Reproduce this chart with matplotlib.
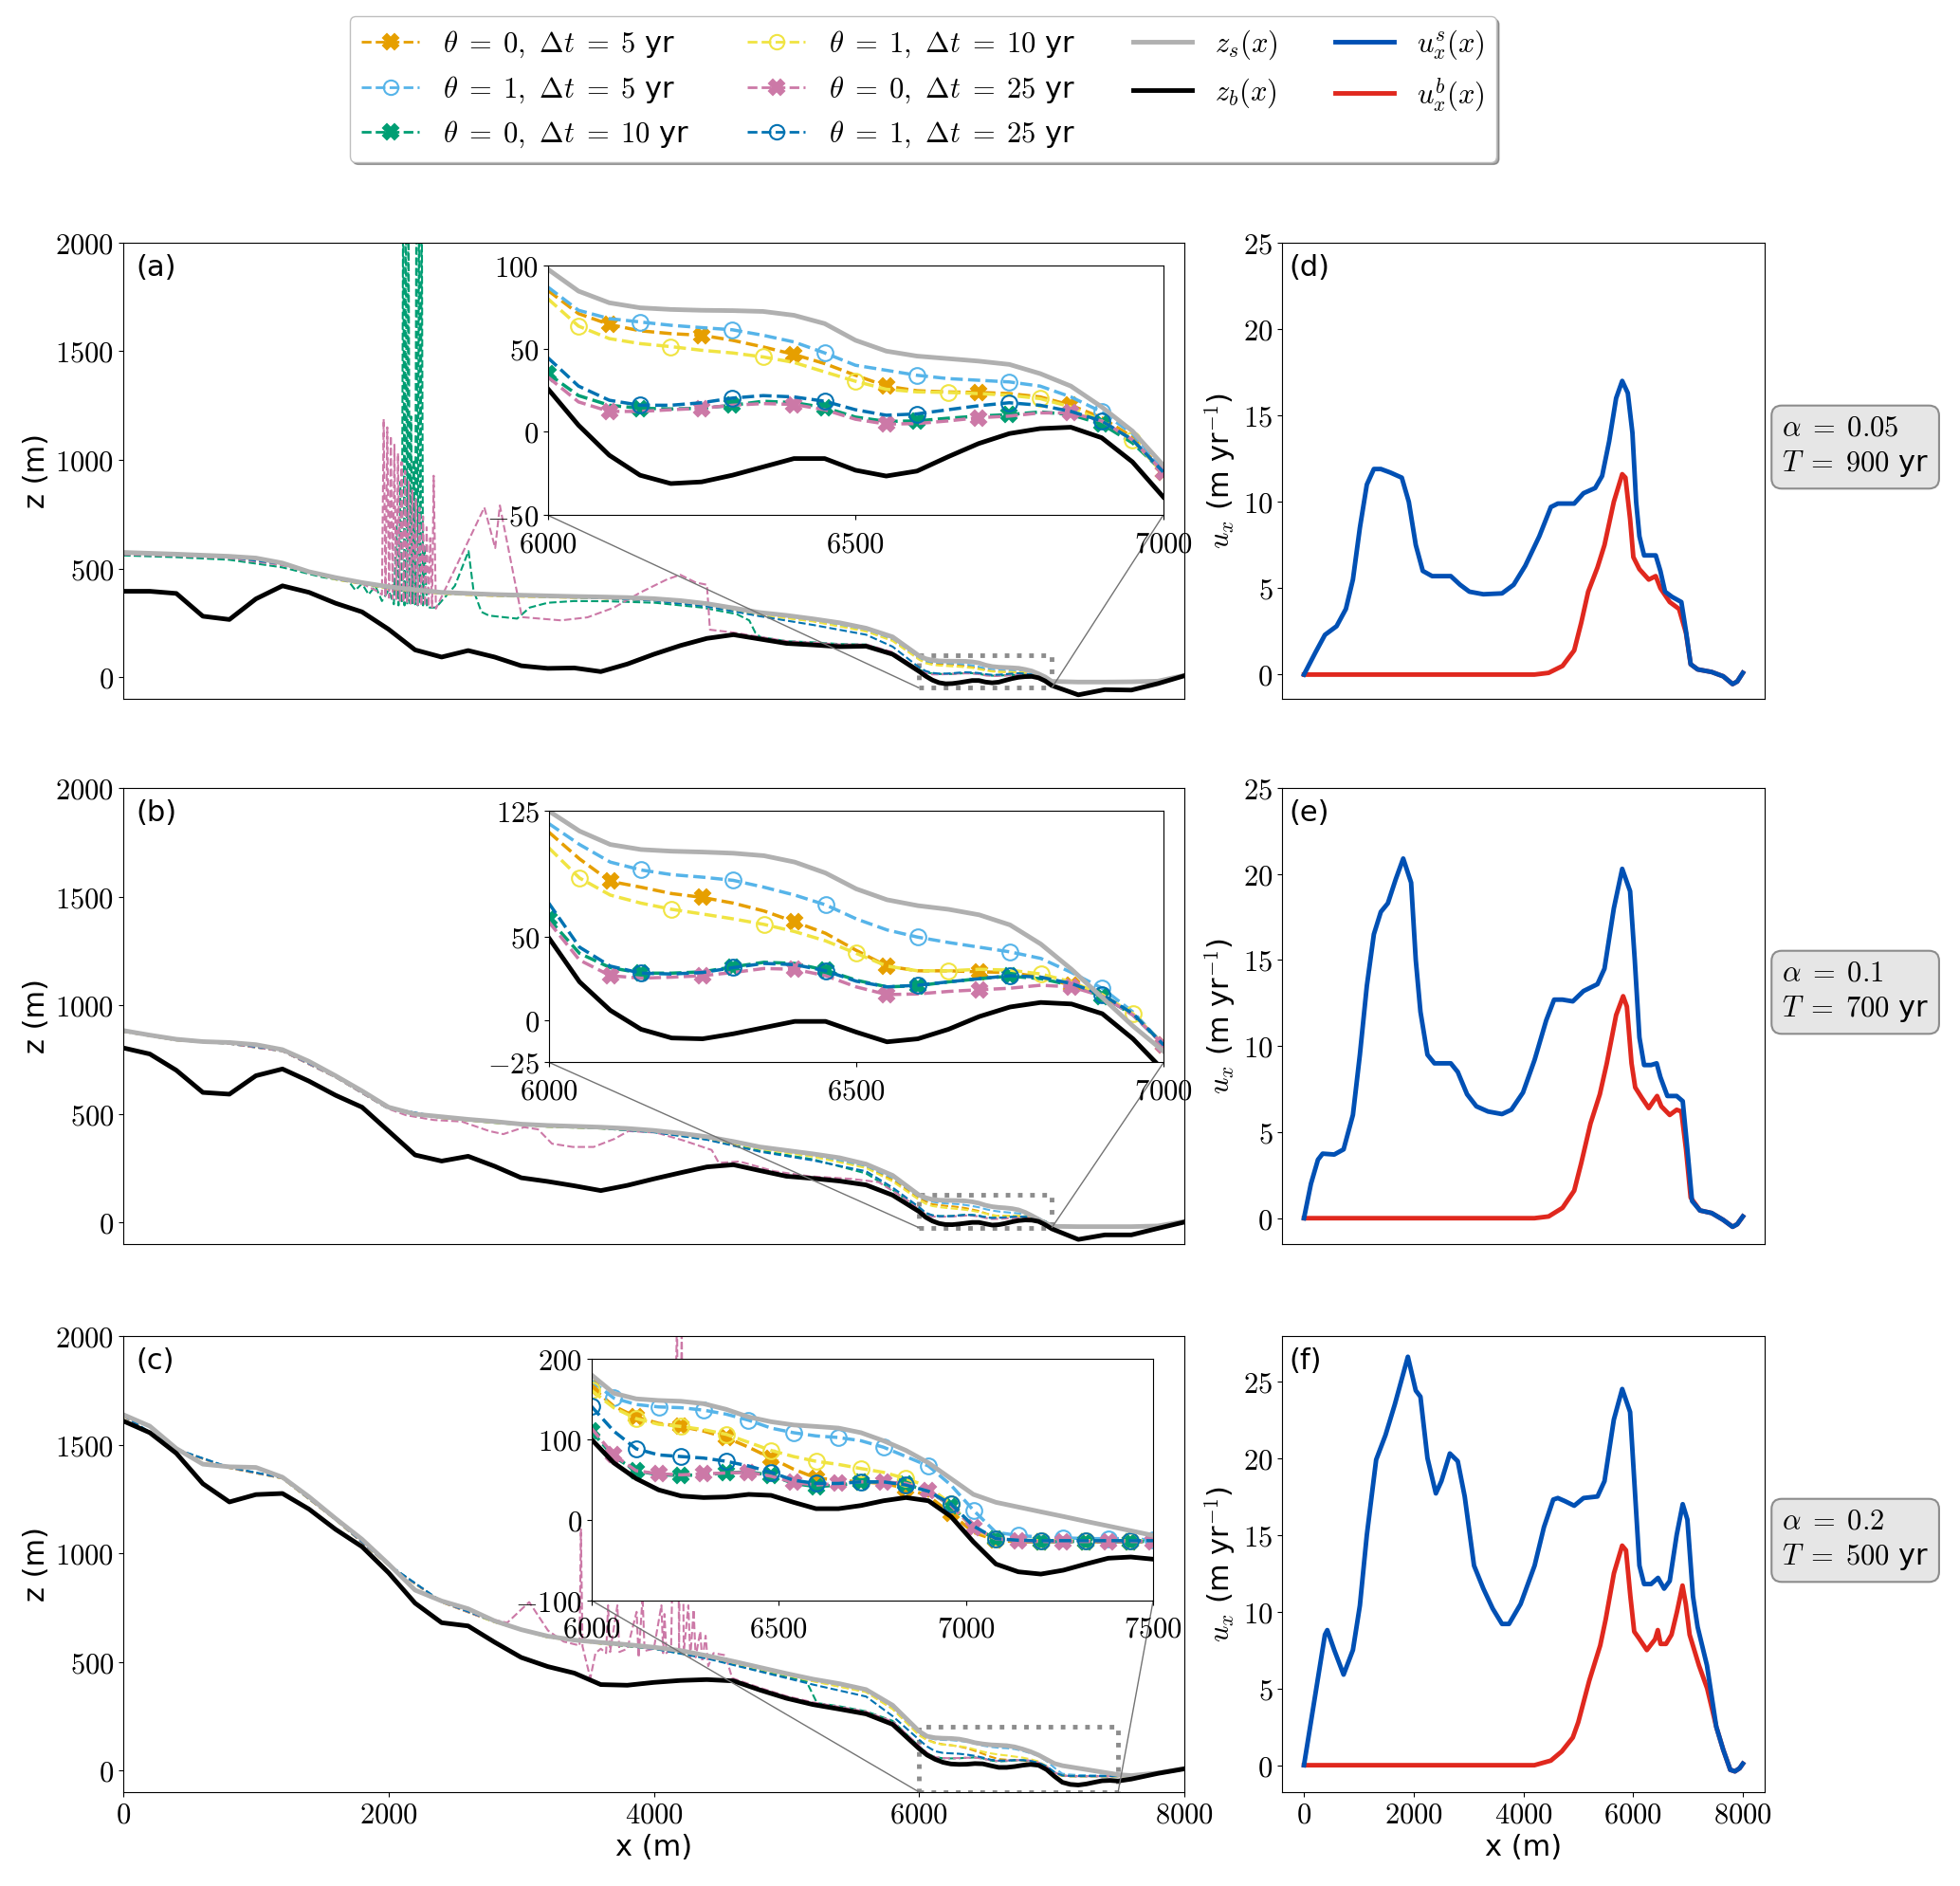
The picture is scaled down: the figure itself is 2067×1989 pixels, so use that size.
import numpy as np
import matplotlib
matplotlib.use('Agg')
from matplotlib import pyplot as plt
from matplotlib.lines import Line2D
from matplotlib.ticker import FuncFormatter
from mpl_toolkits.axes_grid1.inset_locator import mark_inset

plt.rcParams['mathtext.fontset'] = 'cm'
plt.rcParams['font.family'] = ['DejaVu Sans']
plt.rcParams['font.size'] = 22

# ---------------- grids ----------------
x_left = np.arange(0, 6000, 200)            # 0 .. 5800
x_mid = np.r_[np.arange(0, 5601, 400), 5800]
x_zoom = np.arange(6000, 7001, 50)          # panels a, b
x_zoom_c = np.arange(6000, 7501, 60)        # panel c
x_right = np.array([7200, 7400, 7600, 7800, 8000])
x_right_c = np.array([7600, 7800, 8000])

labels = [r'$\theta\;=\;0,\ \Delta t\;=\;5$ yr', r'$\theta\;=\;1,\ \Delta t\;=\;5$ yr',
          r'$\theta\;=\;0,\ \Delta t\;=\;10$ yr', r'$\theta\;=\;1,\ \Delta t\;=\;10$ yr',
          r'$\theta\;=\;0,\ \Delta t\;=\;25$ yr', r'$\theta\;=\;1,\ \Delta t\;=\;25$ yr']
colors = ['#E69F00', '#56B4E9', '#009E73', '#F0E442', '#CC79A7', '#0072B2']
markers = ['X', 'o', 'X', 'o', 'X', 'o']

# ---------------- panel (a) ----------------
bed_a = [395, 395, 385, 280, 265, 360, 420, 390, 340, 300, 220, 125, 92, 122, 92,
         52, 40, 42, 25, 60, 105, 145, 178, 195, 175, 155, 148, 140, 142, 105]
surf_a = [574, 570, 566, 561, 556, 548, 525, 485, 458, 435, 416, 402, 390, 385, 380,
          377, 374, 371, 369, 366, 361, 352, 338, 318, 297, 284, 268, 250, 225, 185]
bed_a_z = [26, 4, -14, -26, -31, -30, -26, -21, -16, -16, -23, -26.5, -23.5, -15, -7,
           -1, 2, 2.8, -3.5, -18, -39]
surf_a_z = [97.7, 84.5, 77.5, 74.5, 73.5, 73, 72.8, 72.3, 70, 65, 55, 48.5, 45.5, 44,
            42.5, 40.5, 35, 27.5, 15, 0.5, -20]
bed_a_r = [-82, -58, -60, -30, 6]
surf_a_r = [-23, -23, -22, -19, 8]
tail_a = [-24, -24, -23, -20, 7]

or_a_m = [569, 561, 551, 518, 450, 408, 384, 374, 368, 363, 354, 330, 288, 258, 212, 170]
lb_a_m = [570, 562, 552, 520, 452, 410, 386, 376, 370, 364, 356, 332, 290, 260, 216, 176]
ye_a_m = [568, 560, 550, 517, 449, 407, 383, 373, 367, 362, 353, 328, 286, 256, 210, 166]
db_a_m = [570, 562, 552, 520, 452, 410, 386, 376, 370, 363, 352, 325, 280, 240, 195, 140]

gr_a_x = [0, 400, 800, 1200, 1500, 1700, 1750, 1800, 1850, 1900, 1950, 2000, 2040, 2060,
          2075, 2090, 2100, 2110, 2120, 2130, 2140, 2150, 2160, 2170, 2180, 2190, 2200,
          2210, 2220, 2230, 2240, 2250, 2260, 2270, 2290, 2357, 2500, 2603, 2640, 2700,
          2757, 2969, 3064, 3200, 3400, 3655, 4009, 4364, 4624, 4719, 4766, 4800, 5000,
          5200, 5400, 5600, 5800]
gr_a_y = [560, 552, 540, 505, 460, 440, 400, 430, 380, 420, 350, 400, 335, 700,
          330, 900, 340, 2300, 330, 2300, 335, 2300, 340, 1200, 340, 1000, 335,
          2300, 330, 2300, 335, 2300, 330, 600, 320, 320, 420, 580, 400, 300,
          283, 269, 320, 342, 350, 349, 342, 320, 290, 261, 203, 185, 165,
          160, 152, 150, 110]
pk_a_x = [0, 400, 800, 1200, 1600, 1800, 1900, 1950, 1963, 1977, 1990, 2004, 2017, 2031,
          2044, 2058, 2071, 2085, 2098, 2112, 2125, 2139, 2152, 2166, 2179, 2193, 2206,
          2220, 2233, 2247, 2260, 2274, 2287, 2301, 2314, 2328, 2340, 2357, 2722, 2804,
          2839, 3005, 3300, 3500, 3700, 3900, 4100, 4199, 4317, 4400, 4423, 4600, 4800,
          5000, 5200, 5400, 5600, 5800]
pk_a_y = [565, 558, 548, 515, 452, 430, 400, 380, 1188, 370, 1150, 365, 1110, 360,
          1070, 355, 1030, 350, 990, 345, 950, 340, 900, 338, 860, 335, 820,
          332, 780, 330, 740, 328, 690, 325, 640, 322, 927, 315, 781, 594,
          790, 276, 261, 275, 320, 390, 450, 471, 435, 425, 218, 205, 185,
          165, 158, 150, 150, 115]

or_a_z = [85, 71, 64.5, 60.7, 59, 58, 55, 51, 46.5, 41, 34, 27.5, 24.7, 24, 23.7, 23, 21, 16, 8.5, -3, -24]
lb_a_z = [87, 73, 68, 66, 64, 62.6, 61.3, 58, 54, 47.4, 40, 37, 34, 32, 31, 30, 27.5, 21, 12, -1, -22]
gr_a_z = [35, 21.8, 16, 14.2, 13.8, 14.2, 16, 18.4, 17.6, 14.6, 8.9, 6.3, 6.6, 8.2, 9.5, 10.4, 12, 10.4, 4.7, -6.6, -24]
ye_a_z = [80, 63.5, 56, 53, 51.2, 49, 47.4, 45, 41.7, 36, 30.4, 25.6, 24, 23.7, 23, 22, 20, 15, 6.6, -4.7, -25]
pk_a_z = [33, 18, 12.3, 12.3, 13.3, 14.2, 16, 17, 16.5, 13.3, 7.6, 4.7, 5, 6.6, 8.5, 9.5, 11.4, 11.4, 6.6, -4.7, -24]
db_a_z = [44.6, 27.5, 19, 16, 16, 17.5, 20.3, 21.8, 21, 18.4, 13.3, 10, 10.8, 13.3, 15.7, 17.5, 16, 12.3, 6.6, -4.7, -24]

# ---------------- panel (b) ----------------
bed_b = [803, 775, 700, 598, 590, 675, 706, 650, 585, 530, 420, 310, 282, 304, 258,
         205, 188, 168, 146, 170, 200, 228, 255, 265, 238, 212, 202, 190, 172, 125]
surf_b = [883, 862, 843, 832, 828, 818, 795, 741, 675, 605, 530, 498, 486, 474, 464,
          452, 446, 442, 438, 432, 423, 410, 394, 372, 347, 331, 315, 297, 268, 216]
bed_b_z = [49.3, 23, 6, -5.3, -10.5, -11, -8, -4.3, -0.6, -0.6, -7, -12.8, -11, -5.3,
           2.3, 8, 10.7, 9.8, 4, -11, -30]
surf_b_z = [125, 113, 105, 102, 101, 100.5, 99.8, 98.3, 94.5, 88, 78.5, 72, 68.5, 66.3,
            63, 57, 45.6, 30.5, 13.6, -3.4, -18.5]
bed_b_r = [-79, -58, -58, -28, 1]
surf_b_r = [-20, -20, -20, -17, 4]
tail_b = [-21, -21, -21, -18, 3]

or_b_m = [879, 839, 824, 790, 670, 525, 481, 459, 441, 433, 418, 388, 340, 305, 255, 195]
lb_b_m = [880, 840, 825, 792, 672, 527, 483, 461, 443, 434, 419, 390, 342, 308, 258, 205]
gr_b_m = [878, 838, 822, 788, 668, 522, 480, 458, 440, 432, 415, 382, 330, 290, 225, 150]
ye_b_m = [878, 838, 823, 789, 669, 524, 480, 458, 440, 432, 417, 386, 338, 302, 250, 188]
db_b_m = [880, 840, 825, 792, 672, 527, 483, 461, 443, 433, 415, 380, 325, 285, 235, 160]
pk_b_x = [0, 400, 800, 1200, 1600, 2001, 2132, 2342, 2551, 2760, 2865, 3022, 3127, 3232,
          3389, 3546, 3703, 3808, 4018, 4227, 4436, 4489, 4646, 4908, 5170, 5484, 5694, 5904]
pk_b_y = [878, 838, 822, 788, 668, 522, 493, 471, 464, 420, 406, 438, 428, 362,
          347, 347, 384, 420, 413, 376, 333, 274, 280, 235, 212, 200, 185, 105]

or_b_z = [112.4, 96.4, 83, 79.5, 75.7, 73.4, 70, 65.3, 58.8, 52, 41.8, 32.4, 29.6, 29.6, 29, 28.6, 25.8, 21, 14.5, 4, -14.7]
lb_b_z = [117.5, 105, 94.5, 89.8, 87, 85.5, 83.6, 79.5, 74.8, 69, 60.6, 54, 49.7, 46.5, 43.7, 40.9, 37, 28.6, 19.2, 5, -14.7]
gr_b_z = [60.6, 40, 31.5, 28.2, 28.2, 29, 32, 34.7, 34, 30, 24, 20, 20.7, 23, 24.9, 26.4, 24.9, 21, 14.5, 3.2, -14.7]
ye_b_z = [103, 85, 74.8, 70, 66.3, 63.5, 60.6, 57.3, 53, 47.5, 40, 32.4, 29.6, 29.6, 30.5, 30, 27.7, 23, 15.4, 4, -14.7]
pk_b_z = [58.8, 36, 26.7, 25.2, 25.8, 26.7, 28.6, 31, 30.5, 26.7, 20, 15.4, 15.8, 17.3, 18.3, 19.2, 21, 20, 14.5, 3.2, -14.7]
db_b_z = [70, 43.7, 32.4, 28.2, 27.7, 28.6, 31.5, 34, 33.3, 29.6, 23.4, 20, 21, 23, 24.9, 26.7, 25.8, 22, 15.4, 4, -14.7]

# ---------------- panel (c) ----------------
bed_c = [1609, 1555, 1460, 1320, 1236, 1270, 1275, 1203, 1110, 1030, 910, 770, 680, 665, 590,
         520, 478, 448, 395, 392, 405, 414, 418, 412, 370, 332, 303, 282, 260, 212]
surf_c = [1638, 1585, 1482, 1410, 1398, 1395, 1350, 1260, 1160, 1064, 950, 830, 780, 744, 688,
          648, 618, 600, 589, 579, 567, 552, 528, 502, 474, 446, 420, 399, 372, 300]
bed_c_z = [100, 70.6, 51, 37, 29.4, 27.5, 28.2, 31.4, 30.2, 21.6, 13.7, 13.7, 17.6, 23.5,
           27.5, 23.5, 4, -27.5, -55, -64.7, -67.5, -62.7, -55, -47.8, -46.3, -49]
surf_c_z = [180, 157, 150, 148, 147, 144, 137, 127.5, 121.6, 117.6, 115.7, 113.7, 108, 98,
            86, 70.6, 51, 31.4, 21.6, 15.7, 9.8, 4, -2, -7.8, -13.7, -19.6]
bed_c_r = [-40, -14, 7]
surf_c_r = [-24, -12, 9]
tail_c = [-26, -14, 7]

or_c_m = [1633, 1477, 1393, 1345, 1155, 945, 775, 683, 613, 584, 562, 522, 467, 412, 362, 285]
lb_c_m = [1635, 1479, 1395, 1347, 1157, 947, 777, 685, 615, 586, 564, 525, 470, 416, 367, 292]
ye_c_m = [1632, 1476, 1392, 1344, 1154, 944, 774, 682, 612, 583, 561, 521, 466, 410, 360, 282]
db_c_m = [1635, 1479, 1395, 1347, 1157, 947, 777, 685, 615, 585, 560, 515, 455, 395, 340, 250]
gr_c_x = [0, 400, 800, 1200, 1600, 2000, 2400, 2800, 3200, 3600, 4000, 4400, 4800, 5000,
          5150, 5230, 5400, 5600, 5800]
gr_c_y = [1633, 1477, 1393, 1345, 1155, 945, 775, 683, 613, 584, 560, 518, 460, 430,
          410, 310, 295, 272, 228]
pk_c_x = [0, 400, 800, 1200, 1600, 2000, 2400, 2700, 2895, 3060, 3202, 3320, 3440, 3450,
          3462, 3521, 3560, 3600, 3640, 3655, 3670, 3725, 3740, 3800, 3870, 3885, 3915,
          3930, 4000, 4057, 4070, 4080, 4095, 4130, 4175, 4190, 4210, 4225, 4260, 4275,
          4300, 4315, 4350, 4365, 4390, 4410, 4450, 4540, 4590, 4800, 5000, 5200, 5400,
          5600, 5800]
pk_c_y = [1633, 1477, 1393, 1345, 1155, 945, 775, 705, 680, 775, 644, 593, 575, 1110,
          571, 425, 540, 560, 540, 760, 545, 760, 545, 560, 730, 520, 800,
          550, 560, 760, 540, 720, 540, 560, 2100, 540, 2100, 540, 760, 520,
          740, 520, 640, 500, 620, 480, 540, 530, 425, 380, 342, 313, 292,
          270, 225]

or_c_z = [164.7, 141, 127.5, 119.6, 115.7, 110, 102, 90, 76.5, 62.7, 51.8, 49, 47, 45, 39, 29.4,
          7.8, -15.7, -25.5, -27.5, -27.5, -27.5, -27.5, -27.5, -27.5, -27.5]
lb_c_z = [172.5, 151, 143, 140, 139, 136, 131, 123.5, 113.7, 108, 104, 102, 98, 90, 78.4, 66.7,
          43, 11.8, -15.7, -19.6, -21.6, -22.4, -23.5, -23.5, -23.5, -25.5]
gr_c_z = [110, 78.4, 60.8, 55.7, 55, 55.7, 58, 59.6, 55, 45, 41, 43, 46.3, 47, 43.9, 35.3,
          17.6, -9.8, -23.5, -26.7, -27, -27, -27, -27, -27, -27]
ye_c_z = [160.8, 139, 125.5, 118.4, 115.7, 111.8, 106, 96, 86, 78.4, 72.5, 68.6, 63.5, 58.8, 51, 41,
          19.6, -11.8, -23.5, -25.5, -26, -26, -26, -26, -26, -26]
pk_c_z = [113.7, 80.4, 60.8, 56.9, 55.7, 56.9, 58, 58.8, 54, 46.3, 43, 45, 47, 47, 45, 36,
          17.6, -9.8, -23.5, -26.7, -27, -27, -27, -27, -27, -27]
db_c_z = [141, 110, 88, 80.4, 78.4, 76.5, 72.5, 66.7, 58.8, 49, 45, 45, 47, 47, 43, 35.3,
          19.6, -7.8, -23.5, -25.5, -26, -26, -26, -26, -26, -26]

# ---------------- velocities ----------------
x_us_d = [0, 212, 382, 594, 764, 892, 1019, 1146, 1274, 1401, 1571, 1783, 1911, 2038, 2166,
          2336, 2676, 2846, 3015, 3270, 3610, 3822, 4034, 4289, 4501, 4628, 4926, 5096, 5308,
          5435, 5563, 5690, 5801, 5903, 5987, 6055, 6115, 6200, 6412, 6497, 6582, 6709, 6879,
          6964, 7049, 7176, 7431, 7643, 7813, 7898, 8000]
us_d = [0, 1.3, 2.3, 2.8, 3.8, 5.5, 8.5, 11, 11.9, 11.9, 11.7, 11.4, 10, 7.5, 6,
        5.7, 5.7, 5.2, 4.8, 4.65, 4.7, 5.2, 6.3, 8, 9.7, 9.9, 9.9, 10.5, 10.8,
        11.5, 13.5, 16, 17, 16.3, 14, 10, 8, 6.9, 6.9, 6, 4.8, 4.5, 4.2,
        2.5, 0.6, 0.3, 0.15, -0.1, -0.55, -0.4, 0.1]
x_ub_d = [0, 4200, 4459, 4713, 4926, 5054, 5181, 5350, 5478, 5648, 5801, 5860, 5945, 6004,
          6115, 6285, 6412, 6497, 6667, 6837, 6964, 7049, 7176, 7431, 7643, 7813, 7898, 8000]
ub_d = [0, 0, 0.1, 0.5, 1.4, 3, 4.8, 6.2, 7.5, 10, 11.6, 11.4, 9, 6.8,
        6.1, 5.5, 5.7, 5.0, 4.2, 3.8, 2.4, 0.6, 0.3, 0.15, -0.1, -0.55, -0.4, 0.1]

x_us_e = [0, 127, 255, 340, 552, 722, 892, 1019, 1146, 1274, 1401, 1529, 1673, 1809, 1953,
          2038, 2123, 2251, 2378, 2676, 2803, 2973, 3143, 3355, 3610, 3780, 3992, 4204, 4416,
          4560, 4713, 4900, 5096, 5350, 5478, 5648, 5801, 5945, 6030, 6115, 6200, 6327, 6429,
          6497, 6624, 6794, 6904, 6989, 7074, 7219, 7431, 7643, 7813, 7898, 8000]
us_e = [0, 2, 3.4, 3.75, 3.7, 4.0, 6, 9.5, 13.5, 16.5, 17.8, 18.3, 19.7, 20.9, 19.5,
        15, 12, 9.5, 9.0, 9.0, 8.5, 7.2, 6.5, 6.2, 6.05, 6.3, 7.3, 9.2, 11.5,
        12.7, 12.7, 12.6, 13.2, 13.6, 14.5, 18, 20.3, 19, 15, 10.5, 8.9, 8.9, 9.0,
        8.2, 7.1, 7.1, 6.8, 4, 1, 0.45, 0.3, -0.1, -0.5, -0.35, 0.1]
x_ub_e = [0, 4200, 4459, 4713, 4926, 5054, 5223, 5393, 5520, 5690, 5818, 5886, 5971, 6038,
          6157, 6285, 6370, 6437, 6514, 6667, 6794, 6879, 6964, 7049, 7219, 7431, 7643, 7813,
          7898, 8000]
ub_e = [0, 0, 0.1, 0.6, 1.6, 3.2, 5.5, 7.2, 9, 11.8, 12.9, 12.3, 9, 7.6,
        7.0, 6.4, 6.8, 7.1, 6.5, 6.0, 6.3, 6.2, 4, 1.2, 0.45, 0.3, -0.1, -0.5,
        -0.35, 0.1]

x_us_f = [0, 382, 425, 552, 722, 892, 1019, 1146, 1316, 1486, 1656, 1894, 2038, 2123, 2251,
          2404, 2505, 2659, 2803, 2930, 3100, 3270, 3440, 3610, 3737, 3949, 4204, 4374, 4544,
          4628, 4756, 4926, 5096, 5350, 5478, 5648, 5801, 5945, 6030, 6115, 6200, 6327, 6454,
          6565, 6667, 6794, 6904, 6989, 7091, 7176, 7346, 7516, 7643, 7771, 7856, 7941, 8000]
us_f = [0, 8.5, 8.8, 7.5, 5.9, 7.5, 10.4, 15, 19.9, 21.5, 23.5, 26.6, 24.4, 24.0, 20,
        17.7, 18.5, 20.3, 19.8, 17.5, 13, 11.5, 10.2, 9.2, 9.2, 10.5, 13, 15.5, 17.3,
        17.4, 17.2, 16.9, 17.4, 17.5, 18.5, 22.5, 24.5, 23, 18, 13, 11.8, 11.8, 12.2,
        11.5, 12, 15, 17, 16, 11, 9, 6.5, 2.5, 1, -0.3, -0.4, -0.2, 0.1]
x_ub_f = [0, 4200, 4500, 4700, 4900, 5000, 5200, 5400, 5500, 5650, 5800, 5870, 5950, 6020,
          6100, 6250, 6400, 6450, 6500, 6600, 6700, 6800, 6900, 6960, 7030, 7200, 7350, 7450,
          7516, 7643, 7771, 7856, 7941, 8000]
ub_f = [0, 0, 0.3, 0.9, 1.8, 2.8, 5.5, 7.8, 9.5, 12.5, 14.3, 14, 11, 8.7,
        8.3, 7.5, 8.2, 8.8, 7.9, 7.9, 8.5, 10, 11.7, 10.5, 8.5, 6.5, 5, 3.5,
        2.5, 1, -0.3, -0.4, -0.2, 0.1]

alphas = ['0.05', '0.1', '0.2']
periods = ['900', '700', '500']

# ---------------- figure ----------------
fmt = FuncFormatter(lambda v, p: '$%g$' % v)
fig = plt.figure(figsize=(20.67, 19.89), dpi=100)

bottoms = [0.6295, 0.3404, 0.0498]
h = 0.2418
panels = [
    dict(bed=(bed_a, bed_a_z, bed_a_r), surf=(surf_a, surf_a_z, surf_a_r), tail=tail_a,
         xz=x_zoom, xr=x_right,
         main=[(x_mid, or_a_m), (x_mid, lb_a_m), (gr_a_x, gr_a_y), (x_mid, ye_a_m),
               (pk_a_x, pk_a_y), (x_mid, db_a_m)],
         zoom=[or_a_z, lb_a_z, gr_a_z, ye_a_z, pk_a_z, db_a_z],
         start=[2, 3, 0, 1, 2, 3], step=3,
         ins=[0.400, 0.4025, 0.580, 0.548], xl=(6000, 7000), yl=(-50, 100),
         yt=[-50, 0, 50, 100], xt=[6000, 6500, 7000],
         us=(x_us_d, us_d), ub=(x_ub_d, ub_d), uy=(-1.4, 25), tag=('(a)', '(d)')),
    dict(bed=(bed_b, bed_b_z, bed_b_r), surf=(surf_b, surf_b_z, surf_b_r), tail=tail_b,
         xz=x_zoom, xr=x_right,
         main=[(x_mid, or_b_m), (x_mid, lb_b_m), (x_mid, gr_b_m), (x_mid, ye_b_m),
               (pk_b_x, pk_b_y), (x_mid, db_b_m)],
         zoom=[or_b_z, lb_b_z, gr_b_z, ye_b_z, pk_b_z, db_b_z],
         start=[2, 3, 0, 1, 2, 3], step=3,
         ins=[0.401, 0.3985, 0.5795, 0.551], xl=(6000, 7000), yl=(-25, 125),
         yt=[-25, 0, 50, 125], xt=[6000, 6500, 7000],
         us=(x_us_e, us_e), ub=(x_ub_e, ub_e), uy=(-1.5, 25), tag=('(b)', '(e)')),
    dict(bed=(bed_c, bed_c_z, bed_c_r), surf=(surf_c, surf_c_z, surf_c_r), tail=tail_c,
         xz=x_zoom_c, xr=x_right_c,
         main=[(x_mid, or_c_m), (x_mid, lb_c_m), (gr_c_x, gr_c_y), (x_mid, ye_c_m),
               (pk_c_x, pk_c_y), (x_mid, db_c_m)],
         zoom=[or_c_z, lb_c_z, gr_c_z, ye_c_z, pk_c_z, db_c_z],
         start=[0, 1, 0, 0, 1, 0], step=2,
         ins=[0.441, 0.4206, 0.5296, 0.530], xl=(6000, 7500), yl=(-100, 200),
         yt=[-100, 0, 100, 200], xt=[6000, 6500, 7000, 7500],
         us=(x_us_f, us_f), ub=(x_ub_f, ub_f), uy=None, tag=('(c)', '(f)')),
]

gray = '#b0b0b0'
blue = '#0050b4'
red = '#e0281e'

for i, p in enumerate(panels):
    ax = fig.add_axes([0.0629, bottoms[i], 0.5414, h])
    xz, xr = p['xz'], p['xr']
    for k in range(6):
        xm, ym = p['main'][k]
        ax.plot(np.r_[xm, xz, xr], np.r_[ym, p['zoom'][k], p['tail']], ls='--',
                lw=1.5, color=colors[k])
    xfull = np.r_[x_left, xz, xr]
    ax.plot(xfull, np.r_[p['surf'][0], p['surf'][1], p['surf'][2]], color=gray, lw=3.5)
    ax.plot(xfull, np.r_[p['bed'][0], p['bed'][1], p['bed'][2]], color='k', lw=3.5)
    ax.set_xlim(0, 8000)
    ax.set_ylim(-100, 2000)
    ax.set_yticks([0, 500, 1000, 1500, 2000])
    ax.yaxis.set_major_formatter(fmt)
    ax.set_ylabel('z (m)')
    if i < 2:
        ax.set_xticks([])
    else:
        ax.set_xticks([0, 2000, 4000, 6000, 8000])
        ax.xaxis.set_major_formatter(fmt)
        ax.set_xlabel('x (m)')
    ax.text(0.012, 0.975, p['tag'][0], transform=ax.transAxes, va='top', ha='left')

    axins = ax.inset_axes(p['ins'])
    for k in range(6):
        mfc = colors[k] if markers[k] == 'X' else 'none'
        axins.plot(xz, p['zoom'][k], ls='--', lw=2.5, color=colors[k], marker=markers[k],
                   ms=11 if markers[k] == 'X' else 12, mfc=mfc, mew=1.5,
                   markevery=slice(p['start'][k], None, p['step']))
    axins.plot(xz, p['surf'][1], color=gray, lw=3.5)
    axins.plot(xz, p['bed'][1], color='k', lw=3.5)
    axins.set_xlim(*p['xl'])
    axins.set_ylim(*p['yl'])
    axins.set_xticks(p['xt'])
    axins.set_yticks(p['yt'])
    axins.tick_params(axis='x', pad=8)
    axins.xaxis.set_major_formatter(fmt)
    axins.yaxis.set_major_formatter(fmt)
    pp, c1, c2 = mark_inset(ax, axins, loc1=3, loc2=4, fc='none', ec='0.45', lw=1)
    pp.set_linestyle(':')
    pp.set_linewidth(3.5)
    pp.set_edgecolor('0.55')

    axr = fig.add_axes([0.6541, bottoms[i], 0.2463, h])
    axr.plot(p['ub'][0], p['ub'][1], color=red, lw=3.5)
    axr.plot(p['us'][0], p['us'][1], color=blue, lw=3.5)
    if p['uy'] is not None:
        axr.set_ylim(*p['uy'])
    axr.set_yticks([0, 5, 10, 15, 20, 25])
    axr.yaxis.set_major_formatter(fmt)
    axr.set_ylabel(r'$u_x$ (m yr$^{-1}$)')
    if i < 2:
        axr.set_xticks([])
    else:
        axr.set_xticks([0, 2000, 4000, 6000, 8000])
        axr.xaxis.set_major_formatter(fmt)
        axr.set_xlabel('x (m)')
    axr.text(0.0135, 0.975, p['tag'][1], transform=axr.transAxes, va='top', ha='left')
    axr.text(1.035, 0.554, r'$\alpha\;=\;%s$' % alphas[i] + '\n' + r'$T\;=\;%s$ yr' % periods[i],
             transform=axr.transAxes, va='center', ha='left', linespacing=1.3,
             bbox=dict(boxstyle='round,pad=0.35', fc='#e6e6e6', ec='#8c8c8c', lw=1.5))

handles = []
for k in range(6):
    mfc = colors[k] if markers[k] == 'X' else 'none'
    handles.append(Line2D([], [], ls='--', lw=2, color=colors[k], marker=markers[k],
                          ms=11, mfc=mfc, mew=1.5))
handles += [Line2D([], [], color=gray, lw=3.5), Line2D([], [], color='k', lw=3.5),
            Line2D([], [], color=blue, lw=3.5), Line2D([], [], color=red, lw=3.5)]
leg_labels = labels + [r'$z_s(x)$', r'$z_b(x)$', r'$u_x^s(x)$', r'$u_x^b(x)$']
fig.legend(handles, leg_labels, loc='upper center', bbox_to_anchor=(0.471, 0.999), ncol=4,
           shadow=True, fancybox=True, fontsize=22, edgecolor='0.75', handlelength=2)

fig.savefig('out.png', dpi=100)
